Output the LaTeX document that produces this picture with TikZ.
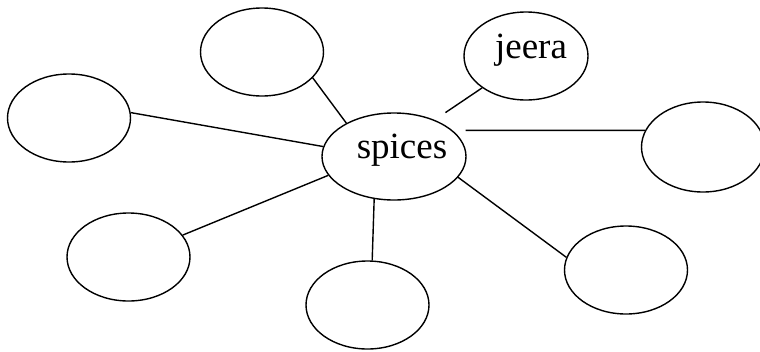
\documentclass[tikz,border=0pt]{standalone}
\usepackage{fontspec}
\setmainfont{Liberation Serif}
\usetikzlibrary{shapes.geometric}

\begin{document}
\begin{tikzpicture}[x=1pt, y=-1pt,
    spot/.style={ellipse, draw=black, line width=1.4pt, inner sep=0pt, minimum width=123pt, minimum height=88pt, font=\fontsize{37}{42}\selectfont},
    link/.style={line width=1.4pt, black}
]
\useasboundingbox (0,0) rectangle (760,351);
\node[spot, minimum width=144pt, minimum height=87pt, text height=3pt, text depth=0pt] (spices) at (394,156.5) {\kern8pt spices\kern-8pt};
\node[spot, minimum width=124pt, text height=4pt, text depth=0pt] (jeera) at (526,56) {\kern5pt jeera\kern-5pt};
\node[spot] (upper) at (262,52) {};
\node[spot] (left) at (69,118) {};
\node[spot, minimum height=90pt] (right) at (703,147) {};
\node[spot] (lowleft) at (128.5,257) {};
\node[spot] (bottom) at (367.5,305) {};
\node[spot] (lowright) at (626,270) {};

\draw[link] (upper.-27) -- (spices.145);
\draw[link, shorten <=13pt] (spices.42) -- (jeera.216);
\draw[link, shorten <=13pt] (spices.24) -- (right.164);
\draw[link] (spices.-18) -- (lowright.168);
\draw[link] (spices.245) -- (bottom.84);
\draw[link] (spices.196) -- (lowleft.22);
\draw[link] (left.5) -- (spices.172);
\end{tikzpicture}
\end{document}
